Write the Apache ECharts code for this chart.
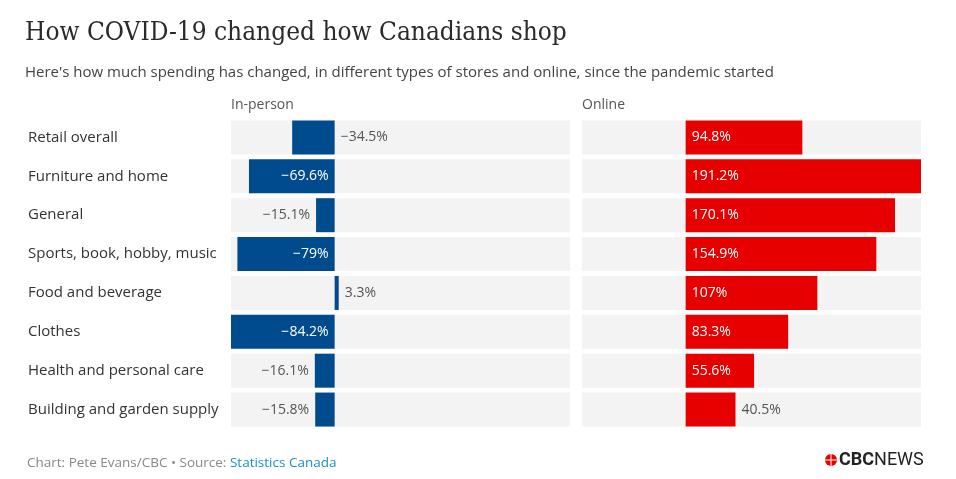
<!DOCTYPE html>
<html>
<head>
<meta charset="utf-8">
<script src="https://cdn.jsdelivr.net/npm/echarts@6/dist/echarts.min.js"></script>
<style>
  html, body { margin: 0; padding: 0; background: #fff; }
  #chart { width: 956px; height: 479px; }
</style>
</head>
<body>
<div id="chart"></div>
<script>
// categories, top to bottom
const categories = [
  'Retail overall',
  'Furniture and home',
  'General',
  'Sports, book, hobby, music',
  'Food and beverage',
  'Clothes',
  'Health and personal care',
  'Building and garden supply'
]

// percent change since the pandemic started
const inPerson = [-34.5, -69.6, -15.1, -79, 3.3, -84.2, -16.1, -15.8]
const online = [94.8, 191.2, 170.1, 154.9, 107, 83.3, 55.6, 40.5]

// where each value label sits (inside bar or outside it)
const inPersonLabelPos = ['right', 'insideRight', 'left', 'insideRight', 'right', 'insideRight', 'left', 'left']
const onlineLabelPos = ['insideLeft', 'insideLeft', 'insideLeft', 'insideLeft', 'insideLeft', 'insideLeft', 'insideLeft', 'right']

// both panels share one scale
const axisMin = -84.2
const axisMax = 191.2

const FONT = '"Open Sans", "Noto Sans", sans-serif'

const fmt = v => (v < 0 ? '\u2212' + Math.abs(v) : String(v)) + '%'

const buildData = (values, positions, color) => values.map((v, i) => {
  const inside = positions[i].indexOf('inside') === 0
  return {
    value: v,
    itemStyle: { color },
    label: {
      position: positions[i],
      distance: 6,
      color: inside ? '#fff' : '#555'
    }
  }
})

const seriesBase = {
  type: 'bar',
  barWidth: 34,
  showBackground: true,
  backgroundStyle: { color: '#f3f3f3' },
  label: {
    show: true,
    fontFamily: FONT,
    fontSize: 14,
    formatter: p => fmt(p.value)
  },
  animation: false
}

const chart = echarts.init(document.getElementById('chart'))

chart.setOption({
  backgroundColor: '#fff',
  title: [
    {
      text: 'How COVID-19 changed how Canadians shop',
      left: 25, top: 20, padding: 0,
      textStyle: { fontFamily: '"DejaVu Serif Condensed", "DejaVu Serif", serif', fontSize: 26, fontWeight: 'normal', color: '#2a2a2a' }
    },
    {
      text: "Here's how much spending has changed, in different types of stores and online, since the pandemic started",
      left: 25, top: 65, padding: 0,
      textStyle: { fontFamily: FONT, fontSize: 15, fontWeight: 'normal', color: '#444' }
    },
    {
      text: 'In-person', left: 231, top: 98, padding: 0,
      textStyle: { fontFamily: FONT, fontSize: 14, fontWeight: 'normal', color: '#555' }
    },
    {
      text: 'Online', left: 582, top: 98, padding: 0,
      textStyle: { fontFamily: FONT, fontSize: 14, fontWeight: 'normal', color: '#555' }
    }
  ],
  grid: [
    { left: 231, width: 339, top: 118, height: 311 },
    { left: 582, width: 339, top: 118, height: 311 }
  ],
  xAxis: [
    { type: 'value', gridIndex: 0, min: axisMin, max: axisMax, show: false },
    { type: 'value', gridIndex: 1, min: axisMin, max: axisMax, show: false }
  ],
  yAxis: [
    {
      type: 'category', gridIndex: 0, data: categories, inverse: true,
      axisLine: { show: false }, axisTick: { show: false },
      axisLabel: { align: 'left', margin: 203, fontFamily: FONT, fontSize: 15, color: '#333' }
    },
    {
      type: 'category', gridIndex: 1, data: categories, inverse: true,
      axisLine: { show: false }, axisTick: { show: false }, axisLabel: { show: false }
    }
  ],
  series: [
    Object.assign({}, seriesBase, {
      name: 'In-person', xAxisIndex: 0, yAxisIndex: 0,
      data: buildData(inPerson, inPersonLabelPos, '#004b8d')
    }),
    Object.assign({}, seriesBase, {
      name: 'Online', xAxisIndex: 1, yAxisIndex: 1,
      data: buildData(online, onlineLabelPos, '#e60000')
    })
  ],
  graphic: [
    {
      type: 'text', left: 27, top: 456,
      style: {
        text: '{a|Chart: Pete Evans/CBC \u2022 Source: }{b|Statistics Canada}',
        rich: {
          a: { fontFamily: FONT, fontSize: 13.5, fill: '#888' },
          b: { fontFamily: FONT, fontSize: 13.5, fill: '#1a8fd0' }
        }
      }
    },
    // CBC gem, roughly
    { type: 'circle', shape: { cx: 831, cy: 460, r: 6 }, style: { fill: '#e60000' } },
    { type: 'line', shape: { x1: 825, y1: 460, x2: 837, y2: 460 }, style: { stroke: '#fff', lineWidth: 1 } },
    { type: 'line', shape: { x1: 831, y1: 454, x2: 831, y2: 466 }, style: { stroke: '#fff', lineWidth: 1 } },
    {
      type: 'text', left: 839, top: 451,
      style: {
        text: '{a|CBC}{b|NEWS}',
        rich: {
          a: { fontFamily: 'Roboto, sans-serif', fontSize: 18, fontWeight: 'bold', fill: '#222' },
          b: { fontFamily: 'Roboto, sans-serif', fontSize: 18, fill: '#222' }
        }
      }
    }
  ]
})
</script>
</body>
</html>
